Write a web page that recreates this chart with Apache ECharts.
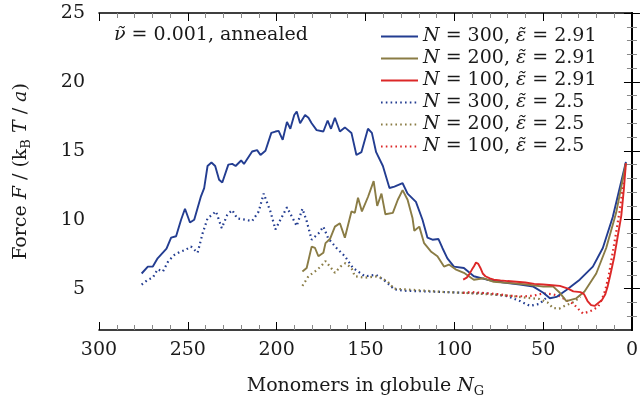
<!DOCTYPE html>
<html>
<head>
<meta charset="utf-8">
<script src="https://cdn.jsdelivr.net/npm/echarts@6/dist/echarts.min.js"></script>
<style>html,body{margin:0;padding:0;background:#fff;}#c{width:641px;height:405px;}</style>
</head>
<body>
<div id="c"></div>
<script>
// ---- data: [N_G, F] ----
const blueSolid = [[276,6.1],[272.5,6.6],[269.7,6.6],[267,7.2],[262,7.9],[259.4,8.7],[256.6,8.8],[253.8,10.0],[251.6,10.8],[248.8,9.8],[246.4,10.0],[242.6,11.7],[240.8,12.3],[238.9,13.9],[236.7,14.15],[234.6,13.9],[232.4,12.9],[230.6,12.7],[227.2,14.0],[225,14.05],[223.1,13.9],[220,14.3],[218.4,14.05],[213.8,14.95],[211,15.05],[209.1,14.7],[206.3,15.0],[203,16.3],[200.7,16.4],[198.9,16.45],[196.6,15.8],[194.2,17.1],[192.3,16.6],[190.1,17.6],[188.7,17.85],[186.8,17.0],[184,17.6],[182.1,17.4],[180.3,17.0],[177.5,16.5],[173.7,16.4],[171.3,17.2],[169.4,16.6],[167.2,17.4],[164.4,16.4],[161.6,16.7],[157.9,16.3],[155.1,14.7],[152.3,14.9],[148.6,16.6],[146.4,16.3],[144,14.9],[140.2,13.9],[136.5,12.3],[133.7,12.4],[129.1,12.65],[126.3,11.9],[121.6,11.3],[117.9,10.0],[115.1,8.7],[112.3,8.55],[108.9,8.6],[106.7,7.95],[103.9,7.2],[100.2,6.6],[94.6,6.5],[89,5.9],[81.6,5.65],[72.2,5.45],[63,5.3],[55.5,5.15],[49.9,4.7],[46.2,4.3],[42.5,4.4],[36.9,4.9],[29.4,5.65],[22,6.6],[16.4,7.95],[10.8,10.2],[3.4,14.2]];
const oliveSolid = [[185.5,6.25],[183.1,6.5],[180.3,8.05],[178.4,7.95],[176.5,7.35],[173.7,7.6],[172.5,8.3],[170,8.6],[167.2,9.5],[164.4,9.75],[161.6,8.7],[157.9,10.6],[156,10.5],[154.2,11.6],[152,10.6],[148.6,11.65],[145.4,12.8],[143.4,11.0],[141,11.9],[138.8,10.4],[134.6,10.5],[131.8,11.45],[129.1,12.15],[126.3,11.45],[123.5,10.1],[122.5,9.2],[119.7,9.5],[117,8.3],[113.2,7.7],[109.5,7.35],[105.8,6.6],[103,6.75],[99.3,6.4],[94.6,6.15],[89,5.65],[83.4,5.75],[77.8,5.5],[68.5,5.4],[59.2,5.3],[49.9,5.15],[44.3,5.15],[40.6,4.7],[36.9,4.1],[31.3,4.3],[26.7,4.8],[20.1,6.1],[14.5,7.95],[8.9,10.5],[3.4,14.1]];
const redSolid = [[95,5.65],[93,5.8],[91.8,6.0],[90,6.4],[89,6.6],[87.8,6.9],[87.2,7.0],[86.5,6.8],[85.3,6.5],[84,6.1],[82.5,5.9],[80,5.75],[77.8,5.65],[74,5.6],[70,5.55],[65,5.5],[60,5.45],[55,5.35],[50,5.3],[45,5.25],[40.6,5.2],[36,5.0],[33,4.8],[29,4.75],[27,4.6],[25,4.1],[23,3.8],[21,3.75],[19,3.95],[17,4.15],[15,4.6],[13.6,5.2],[12,6.1],[10,7.3],[8,8.8],[6,10.3],[4.5,12.3],[3.4,14.1]];
const blueDotted = [[276,5.3],[272.5,5.65],[269.7,5.8],[267,6.4],[264,6.25],[261,7.0],[257.5,7.45],[254.7,7.65],[251.6,7.8],[248.2,8.05],[244.5,7.6],[241.7,9.0],[238.9,10.1],[234.2,10.6],[230.9,9.4],[227.8,10.35],[225,10.7],[222.2,10.1],[217.5,10.0],[213.8,9.9],[210.1,10.6],[207.3,11.9],[203.5,10.6],[200.7,9.3],[197.9,10.0],[194.2,10.9],[191.5,10.25],[188.7,9.55],[185.5,10.8],[183.1,9.9],[180.3,8.55],[176.5,9.0],[173.7,9.5],[171,8.65],[166.3,7.95],[161.6,7.35],[157,6.5],[150.4,5.9],[144,6.0],[138.4,5.5],[133.7,4.95],[128,4.85],[116,4.8],[105,4.75],[95,4.7],[81.6,4.65],[70,4.45],[63,4.1],[57.5,3.75],[52,3.9],[48.5,4.3]];
const oliveDotted = [[185.5,5.2],[182.1,5.9],[178.4,6.25],[175.2,6.6],[172.5,7.0],[170,6.6],[167.2,6.15],[164.1,6.6],[161.3,6.85],[157.9,6.5],[156,5.9],[150.4,5.8],[143,5.9],[137.4,5.5],[134,5.0],[128,4.95],[116,4.85],[105,4.75],[95,4.7],[81.6,4.6],[70,4.5],[60,4.35],[52,4.25],[47.5,4.0],[44.5,3.6],[41,3.55],[37,3.8],[32.4,4.05],[29,4.4]];
const redDotted = [[95,4.7],[90,4.75],[85,4.7],[80,4.65],[75,4.6],[70,4.5],[65,4.45],[60,4.45],[55,4.5],[50,4.65],[45,4.6],[40.6,4.45],[36,4.1],[33,3.9],[30,3.5],[27.6,3.2],[25,3.3],[22,3.45],[19,3.7],[17,4.2],[15,4.9],[13,6.0],[11,7.5],[9,9.0],[7,10.6],[5,12.5],[3.4,14.2]];

const legendNames = ['N300s','N200s','N100s','N300d','N200d','N100d'];
const legendNs = ['300','200','100','300','200','100'];
const legendEps = ['2.91','2.91','2.91','2.5','2.5','2.5'];
const xTickLabels = [0,50,100,150,200,250,300];
const yMajor = [5,10,15,20,25];
const yMinor = [3,4,6,7,8,9,11,12,13,14,16,17,18,19,21,22,23,24];

const FONT = 'DejaVu Serif';
const TXT = '#1a1a1a';
const BLUE = '#233d91', OLIVE = '#8a7c45', RED = '#dc2828';
const DOT = [1.6, 3.2];

const rich = {
  t: {fontFamily: FONT, fontSize: 19, color: TXT, fontWeight: 'normal', lineHeight: 24, verticalAlign: 'middle'},
  i: {fontFamily: FONT, fontSize: 19, color: TXT, fontWeight: 'normal', fontStyle: 'italic', lineHeight: 24, verticalAlign: 'middle'},
  s: {fontFamily: FONT, fontSize: 13, color: TXT, fontWeight: 'normal', lineHeight: 24, verticalAlign: 'bottom'}
};
const legRich = {
  t: {fontFamily: FONT, fontSize: 19, color: TXT, fontWeight: 'normal', lineHeight: 20},
  i: {fontFamily: FONT, fontSize: 19, color: TXT, fontWeight: 'normal', fontStyle: 'italic', lineHeight: 20}
};

function mkSeries(name, data, color, dotted) {
  return {
    name: name, type: 'line', data: data, symbol: 'none', showSymbol: false, smooth: false,
    xAxisIndex: 0, yAxisIndex: 0,
    lineStyle: {color: color, width: dotted ? 2.2 : 1.9, type: dotted ? DOT : 'solid'},
    itemStyle: {color: color},
    z: dotted ? 3 : 4,
    animation: false
  };
}

const baseY = {type: 'value', min: 2, max: 25, splitLine: {show: false}};
function yAx(pos, ticks, len, color, labels) {
  return Object.assign({}, baseY, {
    position: pos,
    axisLine: {show: true, lineStyle: {color: '#000', width: 1.6}},
    axisTick: {show: true, inside: true, length: len, customValues: ticks, lineStyle: {color: color, width: 1}},
    axisLabel: labels ? {show: true, customValues: yMajor, fontFamily: FONT, fontSize: 19, color: TXT, margin: 14} : {show: false}
  });
}
function xAx(pos, labels) {
  return {
    type: 'value', position: pos, inverse: true, min: 0, max: 300, interval: 50,
    splitLine: {show: false},
    axisLine: {show: true, onZero: false, lineStyle: {color: '#000', width: 1.6}},
    axisTick: {show: true, inside: true, length: 8, lineStyle: {color: '#000', width: 1}},
    minorTick: {show: true, splitNumber: 5, length: 5, lineStyle: {color: '#888', width: 1}},
    axisLabel: labels ? {show: true, fontFamily: FONT, fontSize: 19, color: TXT, margin: 11,
      formatter: v => xTickLabels.indexOf(v) >= 0 ? String(v) : ''} : {show: false}
  };
}

const xA0 = xAx('bottom', true);
xA0.name = '{t|Monomers in globule }{i|N}{s|G}';
xA0.nameLocation = 'middle';
xA0.nameGap = 44;
xA0.nameTextStyle = {rich: rich};

const yA0 = yAx('left', yMajor, 8, '#000', true);
yA0.name = '{t|Force }{i|F}{t| / (k}{s|B}{i| T}{t| / }{i|a}{t|)}';
yA0.nameLocation = 'middle';
yA0.nameGap = 66;
yA0.nameRotate = 90;
yA0.nameTextStyle = {rich: rich};

const option = {
  animation: false,
  backgroundColor: '#fff',
  grid: {left: 99, right: 5, top: 13, bottom: 75, containLabel: false},
  title: {
    text: '{i|\u03bd\u0303}{t| = 0.001, annealed}',
    left: 114, top: 25, padding: 0,
    textStyle: {rich: legRich, fontWeight: 'normal'}
  },
  legend: {
    orient: 'vertical', left: 380, top: 27, padding: 0,
    itemWidth: 37, itemHeight: 10, itemGap: 3,
    data: legendNames,
    itemStyle: {opacity: 0},
    formatter: function (name) {
      const k = legendNames.indexOf(name);
      return '{i|N}{t| = ' + legendNs[k] + ', }{i|\u03b5\u0303}{t| = ' + legendEps[k] + '}';
    },
    textStyle: {rich: legRich, padding: [0, 0, 0, 0]},
    selectedMode: false
  },
  xAxis: [xA0, xAx('top', false)],
  yAxis: [
    yA0,
    yAx('left', yMinor, 5, '#888', false),
    yAx('right', yMajor, 8, '#000', false),
    yAx('right', yMinor, 5, '#888', false)
  ],
  series: [
    mkSeries('N300s', blueSolid, BLUE, false),
    mkSeries('N200s', oliveSolid, OLIVE, false),
    mkSeries('N100s', redSolid, RED, false),
    mkSeries('N300d', blueDotted, BLUE, true),
    mkSeries('N200d', oliveDotted, OLIVE, true),
    mkSeries('N100d', redDotted, RED, true)
  ]
};
const chart = echarts.init(document.getElementById('c'), null, {renderer: 'canvas'});
chart.setOption(option);
</script>
</body>
</html>
